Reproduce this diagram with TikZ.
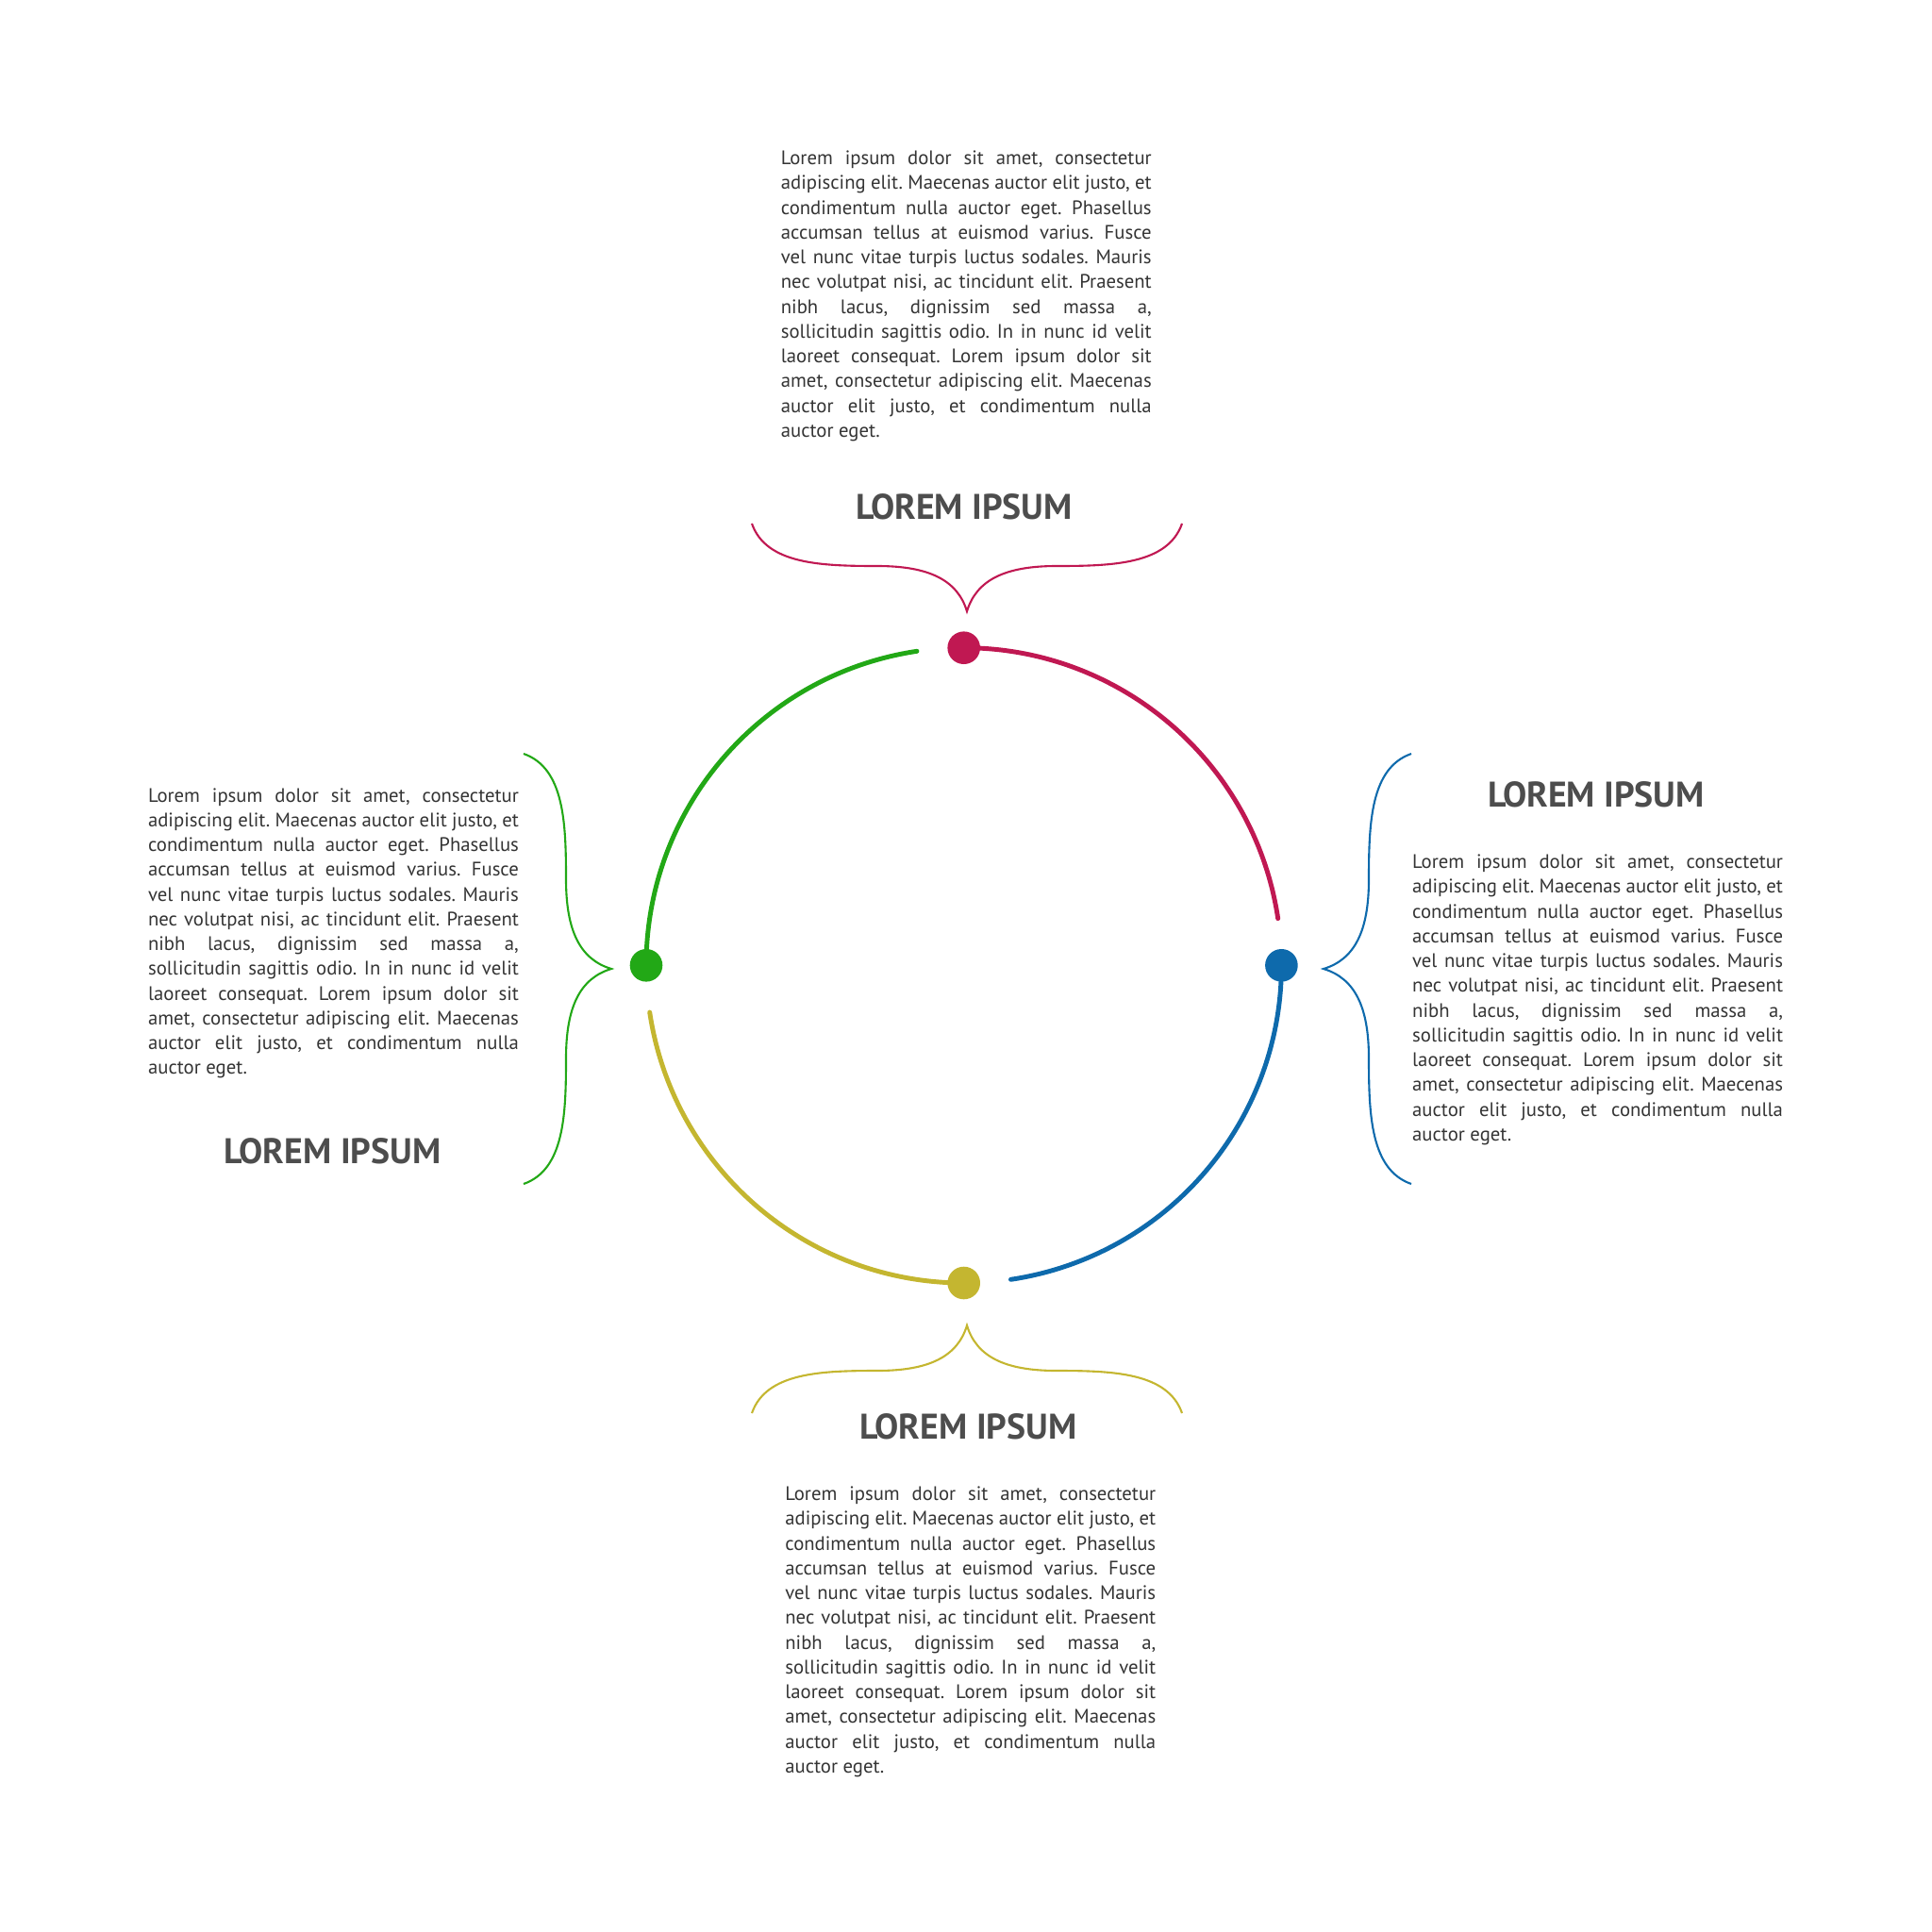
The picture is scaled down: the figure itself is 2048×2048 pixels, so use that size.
\documentclass[tikz,border=0pt]{standalone}
\usepackage{fontspec}
\setmainfont{PT Sans}
\usetikzlibrary{positioning}
\definecolor{crimsoncol}{RGB}{192,24,82}
\definecolor{bluecol}{RGB}{14,106,172}
\definecolor{greencol}{RGB}{34,168,22}
\definecolor{olivecol}{RGB}{196,182,48}
\definecolor{bodycol}{RGB}{52,52,52}
\definecolor{headcol}{RGB}{77,77,77}
\frenchspacing

\newcommand{\loremblock}{Lorem ipsum dolor sit amet, consectetur\linebreak
adipiscing elit. Maecenas auctor elit justo, et\linebreak
condimentum nulla auctor eget. Phasellus\linebreak
accumsan tellus at euismod varius. Fusce\linebreak
vel nunc vitae turpis luctus sodales. Mauris\linebreak
nec volutpat nisi, ac tincidunt elit. Praesent\linebreak
nibh lacus, dignissim sed massa a,\linebreak
sollicitudin sagittis odio. In in nunc id velit\linebreak
laoreet consequat. Lorem ipsum dolor sit\linebreak
amet, consectetur adipiscing elit. Maecenas\linebreak
auctor elit justo, et condimentum nulla\linebreak
auctor eget.}

\tikzset{
  pics/curly/.style={code={
    \draw[line width=1.2pt] (-228,-93) .. controls (-213,-50) and (-155,-48) .. (-95,-48)
      .. controls (-40,-48) and (-10,-33) .. (0,0)
      .. controls (10,-33) and (40,-48) .. (95,-48)
      .. controls (155,-48) and (213,-50) .. (228,-93);
  }}
}

\begin{document}
\begin{tikzpicture}[x=0.02cm,y=-0.02cm,
  dot/.style={circle,fill=#1,inner sep=0pt,minimum size=19.7pt},
  rim/.style={#1,line width=2.8pt,line cap=round},
  body/.style={text=bodycol,font=\fontsize{11.8}{14.95}\selectfont,
    text width=223.6pt,align=justify,inner sep=0pt,anchor=north west},
  head/.style={text=headcol,font=\fontsize{21.5}{24}\selectfont\bfseries,inner sep=0pt}]
\useasboundingbox (0,0) rectangle (2048,2048);

% ring: four dots, each opening a segment
\node[dot=crimsoncol] (topdot) at (1021.7,686.7) {};
\node[dot=bluecol] (rightdot) at (1358.4,1023.3) {};
\node[dot=olivecol] (bottomdot) at (1021.7,1360) {};
\node[dot=greencol] (leftdot) at (685,1023.3) {};
\foreach \n/\a/\c in {topdot/-90/crimsoncol,rightdot/0/bluecol,bottomdot/90/olivecol,leftdot/180/greencol}
  \draw[rim=\c] (\n.center) arc[start angle=\a,delta angle=81.5,radius=336.7];

% braces
\pic[crimsoncol] at (1025,648) {curly};
\pic[olivecol,rotate=180] at (1025,1405) {curly};
\pic[greencol,rotate=90] at (648,1027) {curly};
\pic[bluecol,rotate=-90] at (1403,1027) {curly};

% top panel
\node[body] (toptext) at (827.5,159.5) {\loremblock};
\node[head] (toptitle) at (1022,537) {LOREM IPSUM};
% right panel
\node[head] (righttitle) at (1692,842.4) {LOREM IPSUM};
\node[body] (righttext) at (1496.8,905.5) {\loremblock};
% left panel
\node[body] (lefttext) at (156.7,835) {\loremblock};
\node[head] (lefttitle) at (352.6,1219.8) {LOREM IPSUM};
% bottom panel
\node[head] (bottomtitle) at (1026.5,1512.4) {LOREM IPSUM};
\node[body] (bottomtext) at (832,1575.5) {\loremblock};
\end{tikzpicture}
\end{document}
